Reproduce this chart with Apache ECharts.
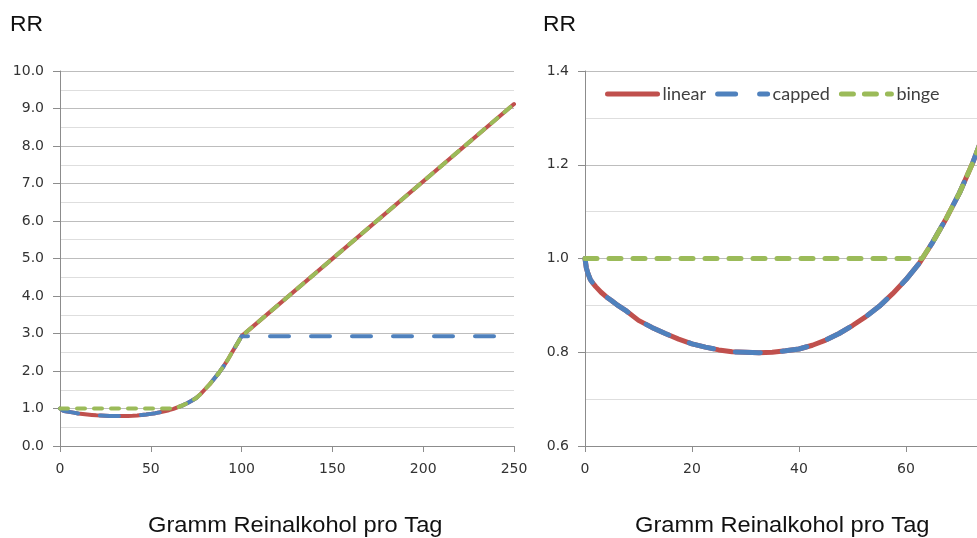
<!DOCTYPE html>
<html>
<head>
<meta charset="utf-8">
<script src="https://cdn.jsdelivr.net/npm/echarts@6/dist/echarts.min.js"></script>
<style>
html,body{margin:0;padding:0;overflow:hidden;background:#fff;width:977px;height:538px;}
#main{width:1040px;height:538px;}
</style>
</head>
<body>
<div id="main"></div>
<script>
// Gramm Reinalkohol pro Tag (x) and RR (y)
var linearX = [0, 0.25, 0.5, 1, 1.5, 2, 3, 4, 5, 6, 7.5, 10, 12.5, 15, 17.5, 20, 22.5, 25, 27.5, 30, 32.5, 35, 37.5, 40, 42.5, 45, 47.5, 50, 52.5, 55, 57.5, 60, 62.5, 65, 67.5, 70, 72.5, 75, 77.5, 80, 82.5, 85, 87.5, 90, 92.5, 95, 97.5, 100, 250];
var linearY = [1.00, 0.98, 0.97, 0.955, 0.947, 0.94, 0.928, 0.918, 0.91, 0.901, 0.89, 0.868, 0.853, 0.84, 0.828, 0.818, 0.811, 0.805, 0.801, 0.80, 0.799, 0.80, 0.803, 0.807, 0.815, 0.826, 0.84, 0.857, 0.876, 0.898, 0.925, 0.955, 0.99, 1.035, 1.085, 1.14, 1.205, 1.28, 1.39, 1.52, 1.65, 1.80, 1.95, 2.12, 2.31, 2.52, 2.72, 2.93, 9.12];

var cappedX = [0, 0.25, 0.5, 1, 1.5, 2, 3, 4, 5, 6, 7.5, 10, 12.5, 15, 17.5, 20, 22.5, 25, 27.5, 30, 32.5, 35, 37.5, 40, 42.5, 45, 47.5, 50, 52.5, 55, 57.5, 60, 62.5, 65, 67.5, 70, 72.5, 75, 77.5, 80, 82.5, 85, 87.5, 90, 92.5, 95, 97.5, 100, 250];
var cappedY = [1.00, 0.98, 0.97, 0.955, 0.947, 0.94, 0.928, 0.918, 0.91, 0.901, 0.89, 0.868, 0.853, 0.84, 0.828, 0.818, 0.811, 0.805, 0.801, 0.80, 0.799, 0.80, 0.803, 0.807, 0.815, 0.826, 0.84, 0.857, 0.876, 0.898, 0.925, 0.955, 0.99, 1.035, 1.085, 1.14, 1.205, 1.28, 1.39, 1.52, 1.65, 1.80, 1.95, 2.12, 2.31, 2.52, 2.72, 2.93, 2.93];

var bingeX = [0, 63, 65, 67.5, 70, 72.5, 75, 77.5, 80, 82.5, 85, 87.5, 90, 92.5, 95, 97.5, 100, 250];
var bingeY = [1.00, 1.00, 1.035, 1.085, 1.14, 1.205, 1.28, 1.39, 1.52, 1.65, 1.80, 1.95, 2.12, 2.31, 2.52, 2.72, 2.93, 9.12];

var seriesNames = ['linear', 'capped', 'binge'];
var yTitle = 'RR';
var xTitle = 'Gramm Reinalkohol pro Tag';

function pairs(xs, ys) { return xs.map(function (x, i) { return [x, ys[i]]; }); }

var colors = { linear: '#C0504D', capped: '#4F81BD', binge: '#9BBB59' };
var labelFont = { fontFamily: 'DejaVu Sans', fontSize: 14, color: '#333333' };
var axisGray = '#8c8c8c';

function xAxisDef(grid, max, interval) {
  return {
    type: 'value', gridIndex: grid, min: 0, max: max, interval: interval,
    axisLine: { show: true, lineStyle: { color: axisGray, width: 1 } },
    axisTick: { show: true, length: 6, lineStyle: { color: axisGray } },
    axisLabel: Object.assign({ margin: 16 }, labelFont),
    splitLine: { show: false }
  };
}
function yAxisDef(grid, min, max, interval) {
  return {
    type: 'value', gridIndex: grid, min: min, max: max, interval: interval,
    axisLine: { show: true, lineStyle: { color: axisGray, width: 1 } },
    axisTick: { show: true, length: 7, lineStyle: { color: axisGray } },
    axisLabel: Object.assign({ margin: 16, formatter: function (v) { return v.toFixed(1); } }, labelFont),
    splitLine: { show: true, lineStyle: { color: '#bdbdbd', width: 1 } },
    minorTick: { show: false, splitNumber: 2 },
    minorSplitLine: { show: true, lineStyle: { color: '#dedede', width: 1 } }
  };
}

function makeSeries(grid, w, blueDash, greenDash) {
  return [
    { name: 'linear', type: 'line', xAxisIndex: grid, yAxisIndex: grid, data: pairs(linearX, linearY),
      smooth: false, showSymbol: false, symbol: 'none', z: 2,
      lineStyle: { color: colors.linear, width: w, cap: 'round', join: 'round' }, itemStyle: { color: colors.linear } },
    { name: 'capped', type: 'line', xAxisIndex: grid, yAxisIndex: grid, data: pairs(cappedX, cappedY),
      smooth: false, showSymbol: false, symbol: 'none', z: 3,
      lineStyle: { color: colors.capped, width: w, type: blueDash, cap: 'round', join: 'round' }, itemStyle: { color: colors.capped } },
    { name: 'binge', type: 'line', xAxisIndex: grid, yAxisIndex: grid, data: pairs(bingeX, bingeY),
      smooth: false, showSymbol: false, symbol: 'none', z: 4,
      lineStyle: { color: colors.binge, width: w, type: greenDash, cap: 'round', join: 'round' }, itemStyle: { color: colors.binge } }
  ];
}

var titleStyle = { fontFamily: 'Liberation Sans', fontSize: 22, fill: '#111', verticalAlign: 'top' };

var chart = echarts.init(document.getElementById('main'), null, { renderer: 'canvas' });
chart.setOption({
  animation: false,
  backgroundColor: '#ffffff',
  grid: [
    { left: 60, top: 71, width: 454, height: 375 },
    { left: 585, top: 71, width: 428, height: 375 }
  ],
  xAxis: [xAxisDef(0, 250, 50), xAxisDef(1, 80, 20)],
  yAxis: [yAxisDef(0, 0, 10, 1), yAxisDef(1, 0.6, 1.4, 0.2)],
  legend: {
    left: 600, top: 80, itemWidth: 50, itemHeight: 14, itemGap: 9,
    itemStyle: { opacity: 0 },
    textStyle: { fontFamily: 'Lato', fontSize: 18, color: '#404040' },
    data: [
      { name: seriesNames[0], lineStyle: { color: colors.linear, width: 5, cap: 'round' } },
      { name: seriesNames[1], lineStyle: { color: colors.capped, width: 5, type: [18, 24], cap: 'round' } },
      { name: seriesNames[2], lineStyle: { color: colors.binge, width: 5, type: [12, 11], cap: 'round' } }
    ]
  },
  series: makeSeries(0, 4, [19, 22], [8, 9]).concat(makeSeries(1, 5, [25, 22], [12, 12])),
  graphic: [
    { type: 'text', x: 10, y: 14, scaleX: 1.04, style: Object.assign({ text: yTitle }, titleStyle) },
    { type: 'text', x: 543, y: 14, scaleX: 1.04, style: Object.assign({ text: yTitle }, titleStyle) },
    { type: 'text', x: 148, y: 515, scaleX: 1.075, style: Object.assign({ text: xTitle }, titleStyle) },
    { type: 'text', x: 635, y: 515, scaleX: 1.075, style: Object.assign({ text: xTitle }, titleStyle) }
  ]
});
</script>
</body>
</html>
